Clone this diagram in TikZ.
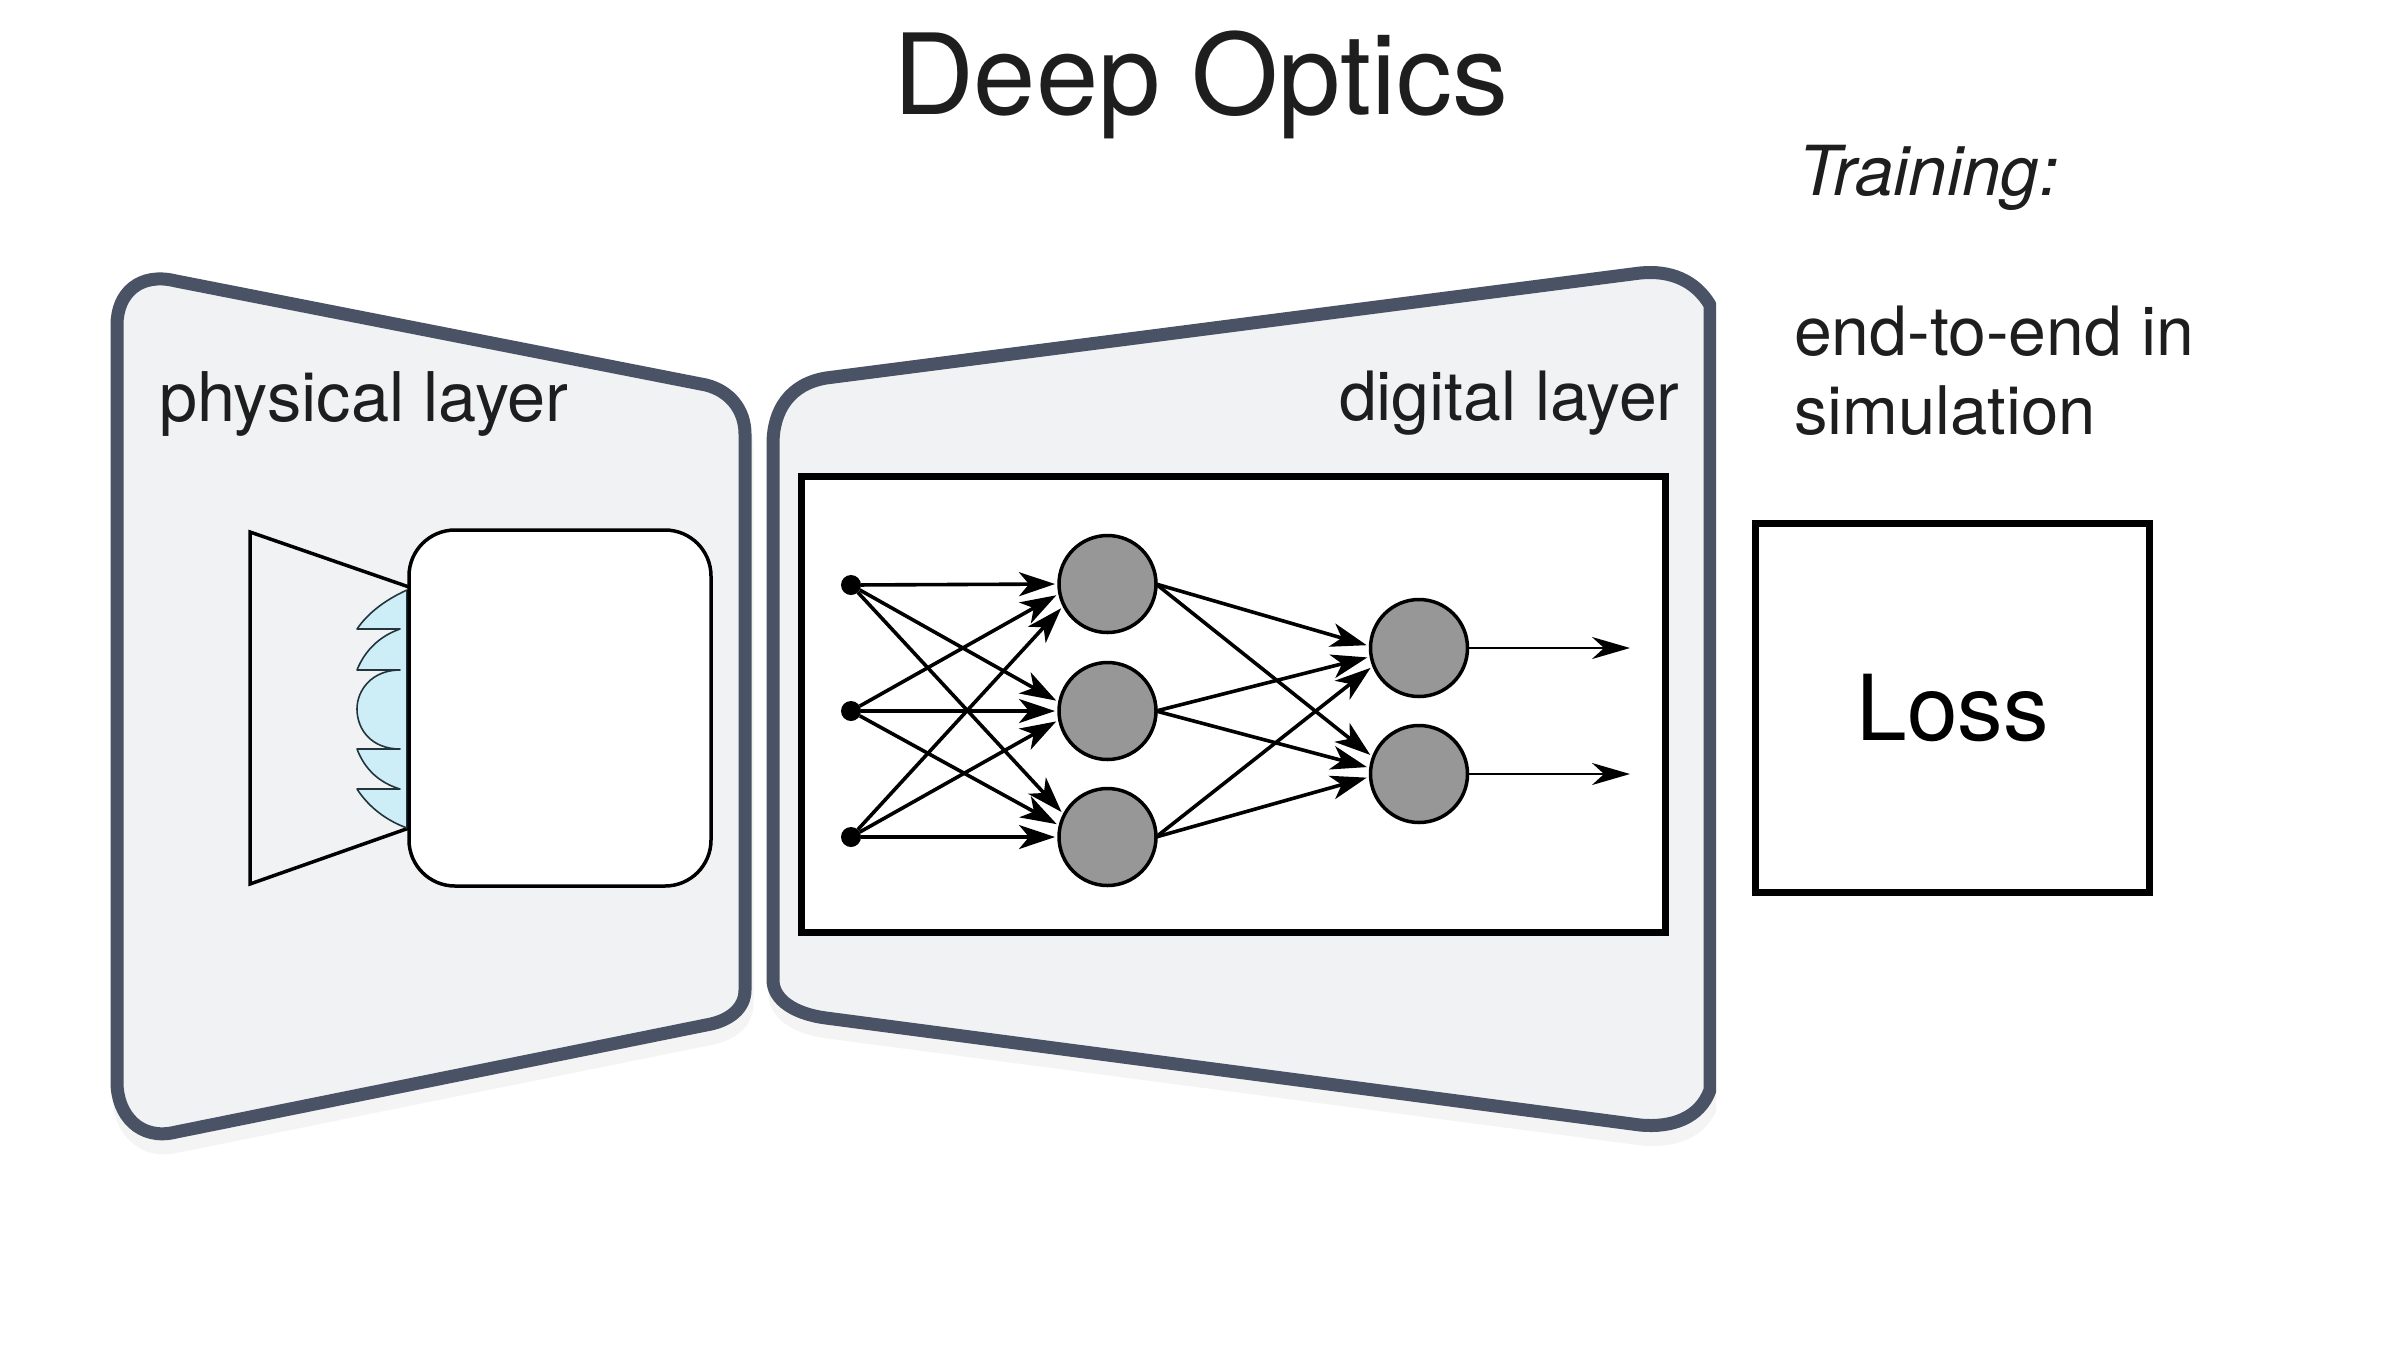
\documentclass[tikz,border=0pt]{standalone}
\usepackage{fontspec}
\setmainfont{TeX Gyre Heros}
\usetikzlibrary{arrows.meta}
\definecolor{panelfill}{HTML}{F1F2F4}
\definecolor{panelline}{HTML}{4A5266}
\definecolor{panelshade}{HTML}{F4F4F4}
\definecolor{lensfill}{HTML}{CDEEF6}
\definecolor{lensline}{HTML}{24343C}
\definecolor{nodegray}{HTML}{979797}
\definecolor{textdark}{HTML}{1E1E1E}
\tikzset{
  x=1pt,y=-1pt,
  txt/.style={inner sep=0pt,outer sep=0pt,anchor=base west,text=textdark},
  panel/.style={fill=panelfill,draw=panelline,line width=13pt,line join=round},
  shade/.style={fill=panelshade,draw=panelshade,line width=13pt,line join=round},
  blackbox/.style={draw=black,fill=white,line width=7pt,inner sep=0pt,outer sep=0pt,rectangle},
  sensorbox/.style={draw=black,fill=white,line width=3.5pt,rounded corners=46pt,inner sep=0pt,outer sep=0pt,rectangle,minimum width=302pt,minimum height=356pt},
  neuron/.style={circle,draw=black,fill=nodegray,line width=3.5pt,minimum size=97pt,inner sep=0pt,outer sep=0pt},
  indot/.style={circle,fill=black,minimum size=20pt,inner sep=0pt,outer sep=0pt},
  edge/.style={line width=3.6pt,-{Stealth[length=36pt,width=24pt,inset=10pt]},shorten >=4pt},
  outedge/.style={line width=2.8pt,-{Stealth[length=38pt,width=22pt,inset=12pt]}},
}
\begin{document}
\begin{tikzpicture}
\useasboundingbox (0,0) rectangle (2400,1350);
\fill[white] (0,0) rectangle (2400,1350);
% left panel
\def\leftpanel{(117,325) .. controls (117,293) and (140,272) .. (176,281) -- (706,385) .. controls (730,391) and (745,410) .. (745,434) -- (745,990) .. controls (745,1008) and (730,1021) .. (706,1025) -- (176,1132) .. controls (140,1141) and (117,1115) .. (117,1082) -- cycle}
\begin{scope}[shift={(2,14)}]
\path[shade] \leftpanel;
\end{scope}
\path[panel] \leftpanel;
% right panel
\def\rightpanel{(773,444) .. controls (773,410) and (790,384) .. (826,378) -- (1640,273) .. controls (1670,270) and (1695,280) .. (1710,305) -- (1710,1090) .. controls (1700,1118) and (1672,1128) .. (1640,1125) -- (826,1018) .. controls (795,1014) and (773,1000) .. (773,980) -- cycle}
\begin{scope}
\clip (700,200) rectangle (1716,1200);
\begin{scope}[shift={(2,14)}]
\path[shade] \rightpanel;
\end{scope}
\path[panel] \rightpanel;
\end{scope}
% texts
\node[txt,font=\fontsize{112}{112}\selectfont] (title) at (893,114) {Deep Optics};
\node[txt,font=\fontsize{69}{69}\selectfont\itshape] (training) at (1798,195) {Training:};
\node[txt,font=\fontsize{68}{68}\selectfont] (e2e) at (1794,355) {end-to-end in};
\node[txt,font=\fontsize{67}{67}\selectfont] (simu) at (1794,434) {simulation};
\node[txt,font=\fontsize{68.5}{68.5}\selectfont] (phys) at (159,421) {physical layer};
\node[txt,font=\fontsize{68}{68}\selectfont] (digi) at (1339,420) {digital layer};
% camera
\draw[line width=3.5pt,line join=miter] (409,587) -- (250,532) -- (250,884) -- (409,828);
\draw[fill=lensfill,draw=lensline,line width=1.6pt,line join=round]
  (407,590) .. controls (385,600) and (368,613) .. (357,629) -- (400,629)
  .. controls (380,636) and (365,650) .. (357,670) -- (400,670)
  .. controls (372,670) and (357,690) .. (357,709) .. controls (357,730) and (372,749) .. (400,749)
  -- (357,749) .. controls (365,770) and (380,783) .. (400,789)
  -- (357,789) .. controls (368,806) and (385,820) .. (407,828) -- cycle;
\node[sensorbox] (sensor) at (560,708) {};
% loss
\node[blackbox,minimum width=394pt,minimum height=369pt,text=black,font=\fontsize{91}{91}\selectfont] (loss) at (1952.5,708) {Loss};
% network
\node[blackbox,minimum width=864pt,minimum height=456pt] (net) at (1233,704.5) {};
\node[indot] (i1) at (851,585) {};
\node[indot] (i2) at (851,711) {};
\node[indot] (i3) at (851,837) {};
\node[neuron] (h1) at (1107.5,584) {};
\node[neuron] (h2) at (1107.5,711) {};
\node[neuron] (h3) at (1107.5,837) {};
\node[neuron] (o1) at (1419,648) {};
\node[neuron] (o2) at (1419,774) {};
\coordinate (e1) at (1630,648);
\coordinate (e2) at (1630,774);
\draw[edge] (i1) -- (h1.180);
\draw[edge] (i2) -- (h1.191);
\draw[edge] (i3) -- (h1.206);
\draw[edge] (i1) -- (h2.170);
\draw[edge] (i2) -- (h2.180);
\draw[edge] (i3) -- (h2.190);
\draw[edge] (i1) -- (h3.153);
\draw[edge] (i2) -- (h3.167);
\draw[edge] (i3) -- (h3.180);
\draw[edge] (h1.0) -- (o1.178);
\draw[edge] (h1.0) -- (o2.160);
\draw[edge] (h2.0) -- (o1.190);
\draw[edge] (h2.0) -- (o2.173);
\draw[edge] (h3.0) -- (o1.201);
\draw[edge] (h3.0) -- (o2.183);
\draw[outedge] (o1) -- (e1);
\draw[outedge] (o2) -- (e2);
\end{tikzpicture}
\end{document}
